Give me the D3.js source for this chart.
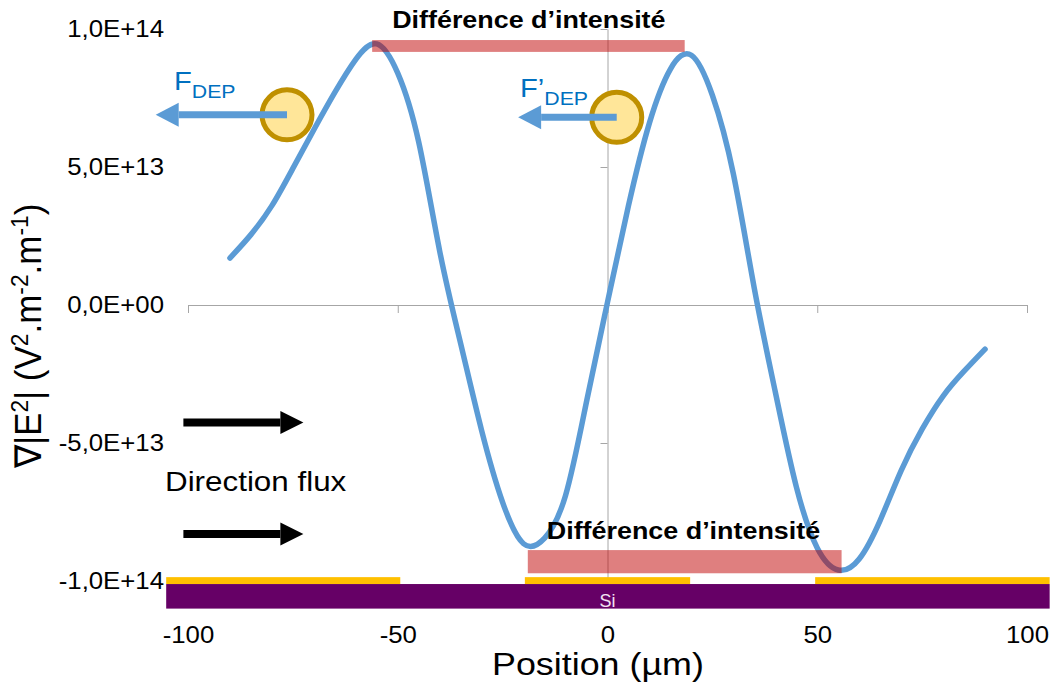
<!DOCTYPE html>
<html>
<head>
<meta charset="utf-8">
<script src="https://cdn.jsdelivr.net/npm/d3@7"></script>
<style>
  body { margin: 0; background: #fff; }
  svg { display: block; font-family: Arial, "Liberation Sans", sans-serif; }
</style>
</head>
<body>
<svg id="chart" width="1052" height="684"></svg>
<script>
// position along the channel (µm)
const positions = [-90, -85, -80, -75, -70, -65, -60, -55, -50, -45, -40, -35, -30, -25, -20, -15, -10, -5,
  0, 5, 10, 15, 20, 25, 30, 35, 40, 45, 50, 55, 60, 65, 70, 75, 80, 85, 90];
// grad |E|² in units of 1e12 V².m-².m-1
const gradE2 = [17, 25.5, 36, 49.5, 63.5, 77, 89, 94.6, 84, 59, 19.5, -14, -45.5, -71.5, -86.5, -84.5, -69, -35,
  1, 36, 66, 85.5, 90.5, 76, 47.5, 6, -31.5, -65.8, -88, -96, -92, -78, -60, -45, -33, -24, -16];

const xTicks = [-100, -50, 0, 50, 100];
const xTickLabels = ["-100", "-50", "0", "50", "100"];
const yTicks = [100, 50, 0, -50, -100];
const yTickLabels = ["1,0E+14", "5,0E+13", "0,0E+00", "-5,0E+13", "-1,0E+14"];

// gold electrodes on the silicon (µm)
const electrodes = [[-105.2, -49.4], [-19.7, 19.7], [49.5, 105.4]];
// "Différence d'intensité" bands: [x0, x1, y0, y1]
const bands = [[-56.1, 18.4, 91.7, 96], [-19, 55.8, -97.2, -88.8]];
// particles (x, y) and the DEP force arrow tip x
const particles = [[-76.4, 68.9, -107.7], [2.2, 68, -21.3]];
// flow direction arrows: y level
const flowArrows = [-42.6, -83];

const svg = d3.select("#chart");
const grey = "#a6a6a6";
const blue = "#5b9bd5";
const k = 1.12; // horizontal stretch of the original picture

const x = d3.scaleLinear().domain([-100, 100]).range([188, 1027]);
const y = d3.scaleLinear().domain([-100, 100]).range([581, 29]);

function stretch(sel) {
    sel.each(function() {
        const w = this.getComputedTextLength();
        d3.select(this).attr("textLength", w * k).attr("lengthAdjust", "spacingAndGlyphs");
    });
}

// axes
const xAxis = svg.append("g")
    .attr("transform", `translate(0,${y(0)})`)
    .call(d3.axisBottom(x).tickValues(xTicks).tickSize(8).tickSizeOuter(0)
        .tickFormat((d, i) => xTickLabels[i]));
xAxis.select(".domain").attr("stroke", grey);
xAxis.selectAll(".tick line").attr("stroke", grey);
xAxis.selectAll(".tick text")
    .attr("y", 643 - y(0))
    .attr("dy", null)
    .attr("font-size", 23)
    .attr("font-family", "Arial, 'Liberation Sans', sans-serif")
    .attr("fill", "#000")
    .call(stretch);

const yAxis = svg.append("g")
    .attr("transform", `translate(${x(0)},0)`)
    .call(d3.axisLeft(y).tickValues(yTicks).tickSize(7).tickSizeOuter(0)
        .tickFormat((d, i) => yTickLabels[i]));
yAxis.select(".domain").attr("stroke", grey);
yAxis.selectAll(".tick line").attr("stroke", grey);
yAxis.selectAll(".tick text")
    .attr("x", 164 - x(0))
    .attr("font-size", 23)
    .attr("font-family", "Arial, 'Liberation Sans', sans-serif")
    .attr("fill", "#000")
    .call(stretch);

// curve
const line = d3.line()
    .curve(d3.curveNatural)
    .x((d, i) => x(positions[i]))
    .y(d => y(d));

svg.append("path")
    .datum(gradE2)
    .attr("fill", "none")
    .attr("stroke", blue)
    .attr("stroke-width", 5.5)
    .attr("stroke-linecap", "round")
    .attr("stroke-linejoin", "round")
    .attr("d", line);

// intensity difference bands
svg.append("g").selectAll("rect")
    .data(bands)
    .join("rect")
    .attr("x", d => x(d[0]))
    .attr("width", d => x(d[1]) - x(d[0]))
    .attr("y", d => y(d[3]))
    .attr("height", d => y(d[2]) - y(d[3]))
    .attr("fill", "#c00000")
    .attr("fill-opacity", 0.5);

// electrodes and substrate
svg.append("rect")
    .attr("x", x(-105.2)).attr("width", x(105.4) - x(-105.2))
    .attr("y", y(-101.1)).attr("height", y(-110) - y(-101.1))
    .attr("fill", "#660066");
svg.append("g").selectAll("rect")
    .data(electrodes)
    .join("rect")
    .attr("x", d => x(d[0]))
    .attr("width", d => x(d[1]) - x(d[0]))
    .attr("y", y(-98.6))
    .attr("height", y(-101.1) - y(-98.6))
    .attr("fill", "#ffc000");
svg.append("text")
    .attr("x", x(0)).attr("y", y(-110) - 2)
    .attr("text-anchor", "middle")
    .attr("font-size", 18)
    .attr("fill", "#f3e3f3")
    .text("Si");

// labels
svg.selectAll(".band-label")
    .data([[x(-56.1) + 20, 28], [x(-19) + 19, 539]])
    .join("text")
    .attr("class", "band-label")
    .attr("x", d => d[0]).attr("y", d => d[1])
    .attr("font-size", 24)
    .attr("font-weight", "bold")
    .text("Différence d\u2019intensité")
    .call(stretch);

svg.append("text")
    .attr("x", 165).attr("y", 491)
    .attr("font-size", 28)
    .text("Direction flux")
    .call(stretch);

svg.append("text")
    .attr("x", 492).attr("y", 675)
    .attr("font-size", 32)
    .text("Position (µm)")
    .call(stretch);

// y title
const yt = svg.append("text")
    .attr("transform", "translate(41,336) scale(1.06,1) rotate(-90)")
    .attr("text-anchor", "middle")
    .attr("font-size", 35);
yt.append("tspan").text("\u2207|E");
yt.append("tspan").attr("font-size", "65%").attr("baseline-shift", "super").text("2");
yt.append("tspan").text("| (V");
yt.append("tspan").attr("font-size", "65%").attr("baseline-shift", "super").text("2");
yt.append("tspan").text(".m");
yt.append("tspan").attr("font-size", "65%").attr("baseline-shift", "super").text("-2");
yt.append("tspan").text(".m");
yt.append("tspan").attr("font-size", "65%").attr("baseline-shift", "super").text("-1");
yt.append("tspan").text(")");

// particles and DEP forces
const fLabels = [["F", 174, 90], ["F\u2019", 520, 97]];
fLabels.forEach(([f, fx, fy]) => {
    const t = svg.append("text").attr("x", fx).attr("y", fy).attr("fill", "#0070c0").attr("font-size", 26);
    t.append("tspan").text(f);
    t.append("tspan").attr("font-size", 19).attr("dy", 8).text("DEP");
    t.call(stretch);
});

function arrow(x0, x1, yy, color, width, headLen, headHalf) {
    const dir = Math.sign(x1 - x0);
    const xb = x1 - dir * headLen;
    svg.append("line")
        .attr("x1", x0).attr("x2", xb)
        .attr("y1", yy).attr("y2", yy)
        .attr("stroke", color).attr("stroke-width", width);
    svg.append("path")
        .attr("d", `M${x1},${yy}L${xb},${yy - headHalf}L${xb},${yy + headHalf}Z`)
        .attr("fill", color);
}

particles.forEach(([px, py, tip]) => {
    svg.append("circle")
        .attr("cx", x(px)).attr("cy", y(py))
        .attr("r", 25)
        .attr("fill", "#ffe699")
        .attr("stroke", "#bf9000")
        .attr("stroke-width", 5);
    arrow(x(px), x(tip), y(py), blue, 7, 23, 12);
});

flowArrows.forEach(v => arrow(x(-101.1), x(-72.5), y(v), "#000", 8, 23, 11.5));
</script>
</body>
</html>
